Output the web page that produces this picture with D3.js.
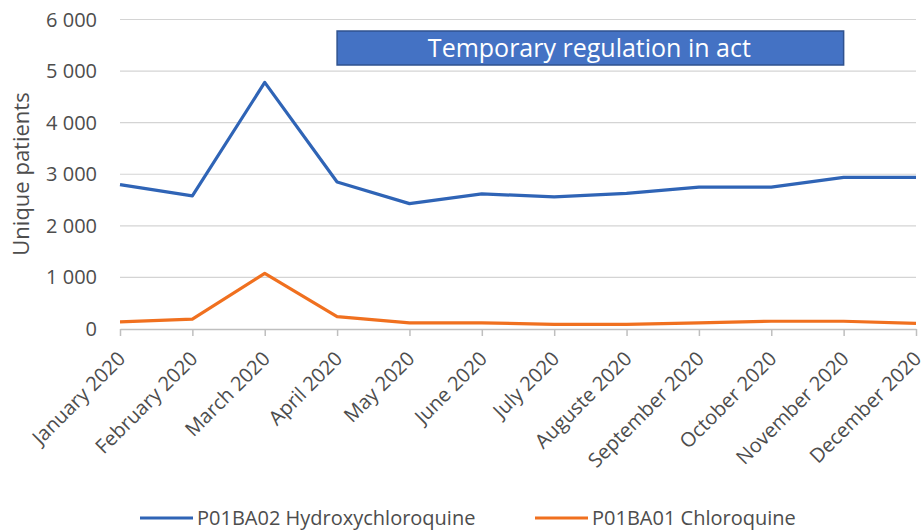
<!DOCTYPE html>
<html>
<head>
<meta charset="utf-8">
<script src="https://cdn.jsdelivr.net/npm/d3@7"></script>
<style>
  body { margin: 0; background: #fff; }
  svg text { font-family: "Open Sans", "Noto Sans", sans-serif; fill: #4D4D4D; }
</style>
</head>
<body>
<div class="chart_container"></div>
<script>
const months = ["January 2020", "February 2020", "March 2020", "April 2020", "May 2020", "June 2020",
  "July 2020", "Auguste 2020", "September 2020", "October 2020", "November 2020", "December 2020"];
const hydroxy = [2800, 2580, 4780, 2850, 2430, 2620, 2560, 2630, 2750, 2750, 2940, 2940];
const chloro = [140, 190, 1080, 240, 120, 120, 90, 90, 120, 150, 150, 110];
const yTicks = [0, 1000, 2000, 3000, 4000, 5000, 6000];
const seriesNames = ["P01BA02 Hydroxychloroquine", "P01BA01 Chloroquine"];
const colors = ["#2F64B6", "#F0701F"];

const width = 921, height = 530;
const plotLeft = 120, plotRight = 916, plotTop = 19.5, plotBottom = 329;

function drawChart() {
  const container = document.querySelector('div.chart_container');
  container.innerHTML = `<svg id="svgCont" width=${width} height=${height}></svg>`;
  const svg = d3.select(container).select('#svgCont');

  const xScale = d3.scalePoint().domain(months).range([plotLeft, plotRight]);
  const yScale = d3.scaleLinear().domain([0, 6000]).range([plotBottom, plotTop]);

  // gridlines
  svg.append('g').selectAll('line')
    .data(yTicks.filter(d => d > 0)).enter().append('line')
    .attr('x1', plotLeft).attr('x2', plotRight)
    .attr('y1', d => yScale(d)).attr('y2', d => yScale(d))
    .attr('stroke', '#D4D4D4').attr('stroke-width', 1.2);

  // y tick labels
  svg.append('g').selectAll('text')
    .data(yTicks).enter().append('text')
    .attr('x', 97).attr('y', d => yScale(d))
    .attr('dy', '0.35em').attr('text-anchor', 'end')
    .style('font-size', '20px')
    .text(d => d3.format(",")(d).replace(/,/g, " "));

  // x axis
  const xAxis = svg.append('g').attr('transform', `translate(0,${plotBottom})`)
    .call(d3.axisBottom(xScale).tickSize(7).tickSizeOuter(0));
  xAxis.select('.domain').attr('stroke', '#BFBFBF').attr('stroke-width', 1.5);
  xAxis.selectAll('.tick line').attr('stroke', '#BFBFBF').attr('stroke-width', 1.5);
  xAxis.selectAll('.tick text')
    .attr('y', 0).attr('dy', 0)
    .attr('transform', 'translate(6,31) rotate(-45)')
    .attr('text-anchor', 'end')
    .style('font-size', '20px')
    .style('font-family', '"Open Sans", sans-serif')
    .attr('fill', '#4D4D4D');

  // y axis title
  svg.append('text')
    .attr('transform', 'translate(29,174) rotate(-90)')
    .attr('text-anchor', 'middle')
    .style('font-size', '22px')
    .text('Unique patients');

  // regulation banner
  svg.append('rect')
    .attr('x', xScale(months[3])).attr('y', 31)
    .attr('width', xScale(months[10]) - xScale(months[3])).attr('height', 34)
    .attr('fill', '#4472C4').attr('stroke', '#2F528F').attr('stroke-width', 1.5);
  svg.append('text')
    .attr('x', (xScale(months[3]) + xScale(months[10])) / 2 - 1).attr('y', 48)
    .attr('dy', '0.35em').attr('text-anchor', 'middle')
    .style('font-size', '25px').style('fill', '#fff')
    .text('Temporary regulation in act');

  // lines
  const line = d3.line().x((d, i) => xScale(months[i])).y(d => yScale(d));
  [hydroxy, chloro].forEach((s, k) => {
    svg.append('path').datum(s)
      .attr('d', line)
      .attr('fill', 'none')
      .attr('stroke', colors[k]).attr('stroke-width', 3.2)
      .attr('stroke-linejoin', 'round');
  });

  // legend
  const legendX = [140, 535];
  seriesNames.forEach((name, k) => {
    const g = svg.append('g').attr('transform', `translate(${legendX[k]},518)`);
    g.append('line').attr('x1', 0).attr('x2', 53).attr('stroke', colors[k]).attr('stroke-width', 3.2);
    g.append('text').attr('x', 57).attr('dy', '0.35em')
      .style('font-size', '20px').text(name);
  });
}

drawChart();
</script>
</body>
</html>
